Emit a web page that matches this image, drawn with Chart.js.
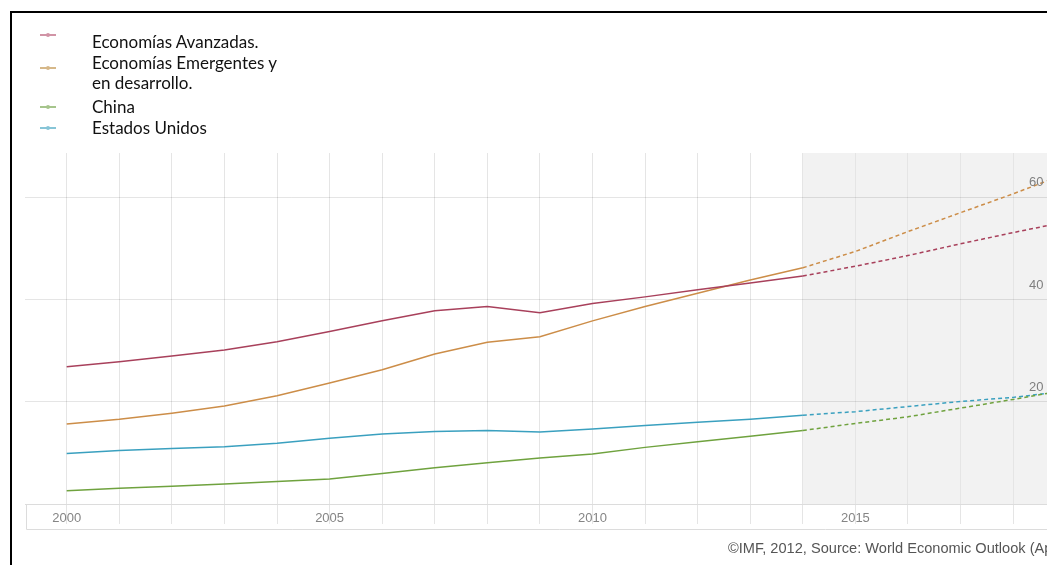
<!DOCTYPE html>
<html>
<head>
<meta charset="utf-8">
<script src="https://cdn.jsdelivr.net/npm/chart.js@4.4.1/dist/chart.umd.min.js"></script>
<style>
html,body{margin:0;padding:0;background:#fff;overflow:hidden;width:1047px;height:565px;}
#wrap{position:relative;width:1047px;height:565px;overflow:hidden;background:#fff;}
#c{position:absolute;left:0;top:0;}
#frame{position:absolute;left:10px;top:11px;width:1100px;height:600px;border-top:2px solid #000;border-left:2px solid #000;pointer-events:none;}
.lg{position:absolute;left:92px;font-family:Lato,"Open Sans",sans-serif;font-size:17px;color:#111;white-space:pre;line-height:20px;}
.mk{position:absolute;left:40px;width:16px;height:2px;opacity:0.75;}
.mk i{position:absolute;left:6px;top:-1px;width:4px;height:4px;border-radius:2px;background:inherit;}
#credit{position:absolute;left:728px;top:540px;font-family:"Liberation Sans",Arial,sans-serif;font-size:14.6px;line-height:16px;color:#555;white-space:nowrap;}
</style>
</head>
<body>
<div id="wrap">
  <canvas id="c" width="1100" height="565"></canvas>
  <div id="legend"></div>
  <div id="credit"></div>
  <div id="frame"></div>
</div>
<script>
// ---- data ----
const years = [2000,2001,2002,2003,2004,2005,2006,2007,2008,2009,2010,2011,2012,2013,2014,2015,2016,2017,2018,2019];
const advanced = [26.9,27.9,29.0,30.2,31.8,33.8,35.9,37.9,38.7,37.5,39.3,40.6,42.0,43.3,44.7,46.6,48.7,51.0,53.2,55.3];
const emerging = [15.7,16.6,17.8,19.2,21.2,23.7,26.3,29.4,31.7,32.8,35.9,38.7,41.3,43.9,46.3,49.5,53.4,57.1,60.8,64.7];
const china    = [2.6,3.1,3.5,3.9,4.4,4.9,6.0,7.1,8.1,9.0,9.8,11.1,12.2,13.3,14.4,15.8,17.1,18.8,20.5,22.3];
const usa      = [9.9,10.5,10.9,11.2,11.9,12.9,13.7,14.2,14.4,14.1,14.7,15.4,16.0,16.6,17.4,18.1,19.1,20.1,20.9,22.1];
const seriesNames = ['Economías Avanzadas.', 'Economías Emergentes y\nen desarrollo.', 'China', 'Estados Unidos'];
const xTickLabels = ['2000','2005','2010','2015'];
const yTickValues = [20,40,60];
const yTickLabels = ['20 trillion','40 trillion','60 trillion'];
const forecastStart = 2014;
const creditText = '©IMF, 2012, Source: World Economic Outlook (April 2012)';

// ---- styles ----
const colors = ['#a8405b','#cc8d48','#6fa23e','#3aa0bf'];
const legendColors = ['#c27088','#c9a062','#88b266','#5fb2ca'];
const legendTextTops = [32,53,97,118];
const legendMarkTops = [34,67,106,127];

const legend = document.getElementById('legend');
seriesNames.forEach((n,i)=>{
  const t=document.createElement('div'); t.className='lg'; t.style.top=legendTextTops[i]+'px'; t.textContent=n; legend.appendChild(t);
  const m=document.createElement('div'); m.className='mk'; m.style.top=legendMarkTops[i]+'px'; m.style.background=legendColors[i];
  m.appendChild(document.createElement('i')); legend.appendChild(m);
});
document.getElementById('credit').textContent = creditText;

const seriesData = [advanced, emerging, china, usa];
const datasets = seriesData.map((arr,i)=>({
  label: seriesNames[i].replace('\n',' '),
  data: years.map((y,k)=>({x:y, y:arr[k]})),
  borderColor: colors[i],
  borderWidth: 1.5,
  pointRadius: 0,
  tension: 0,
  fill: false,
  segment: { borderDash: ctx => ctx.p0.parsed.x >= forecastStart ? [4,3] : undefined }
}));

const bgPlugin = {
  id: 'bg',
  beforeDraw(chart){
    const {ctx, chartArea:a, scales:{x}} = chart;
    ctx.save();
    const xs = x.getPixelForValue(forecastStart);
    ctx.fillStyle = '#f2f2f2';
    ctx.fillRect(xs, a.top, a.right - xs, a.bottom - a.top);
    ctx.strokeStyle = '#dcdcdc';
    ctx.lineWidth = 1;
    ctx.beginPath();
    ctx.moveTo(a.left+1.5, a.bottom);
    ctx.lineTo(a.left+1.5, a.bottom+25.5);
    ctx.lineTo(a.right, a.bottom+25.5);
    ctx.stroke();
    ctx.restore();
  },
  afterDatasetsDraw(chart){
    const {ctx, scales:{x,y}} = chart;
    ctx.save();
    ctx.font = '13px "Liberation Sans", Arial, sans-serif';
    ctx.fillStyle = '#7f7f7f';
    ctx.textAlign = 'left';
    ctx.textBaseline = 'middle';
    yTickValues.forEach((v,i)=>{
      ctx.fillText(yTickLabels[i], x.right - 63, y.getPixelForValue(v) - 15);
    });
    ctx.restore();
  }
};

new Chart(document.getElementById('c'), {
  type: 'line',
  data: { datasets },
  plugins: [bgPlugin],
  options: {
    responsive: false,
    devicePixelRatio: 1,
    animation: false,
    layout: { padding: { left: 25, right: 8, top: 153, bottom: 35 } },
    plugins: { legend: { display: false }, tooltip: { enabled: false } },
    scales: {
      x: {
        type: 'linear',
        min: 1999.207,
        max: 2019.5,
        afterBuildTicks: s => { s.ticks = years.map(v=>({value:v})); },
        afterFit: s => { s.height = 26; },
        grid: { color: '#e5e5e5', lineWidth: 1, drawTicks: true, tickLength: 20 },
        border: { display: true, color: '#dcdcdc' },
        ticks: {
          autoSkip: false, maxRotation: 0, padding: -13,
          color: '#858585',
          font: { family: '"Liberation Sans", Arial, sans-serif', size: 13 },
          callback: v => xTickLabels.includes(String(v)) ? String(v) : ''
        }
      },
      y: {
        position: 'right',
        min: 0,
        max: 68.8,
        afterBuildTicks: s => { s.ticks = yTickValues.map(v=>({value:v})); },
        afterFit: s => { s.width = 0; },
        grid: { color: 'rgba(0,0,0,0.1)', drawTicks: false },
        border: { display: false },
        ticks: { display: false }
      }
    }
  }
});
</script>
</body>
</html>
